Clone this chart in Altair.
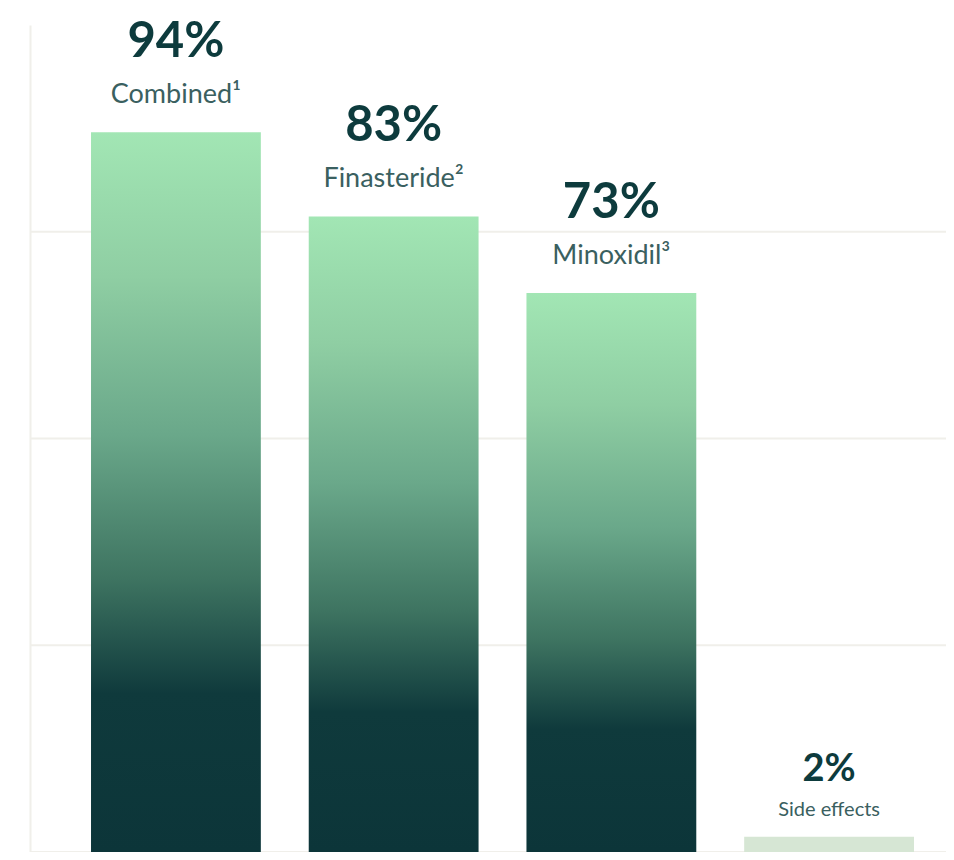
import altair as alt
import pandas as pd

categories = ["Combined", "Finasteride", "Minoxidil", "Side effects"]
labels = ["Combined\u00b9", "Finasteride\u00b2", "Minoxidil\u00b3", "Side effects"]
values = [94, 83, 73, 2]
kinds = ["treatment", "treatment", "treatment", "side"]
grid_levels = [0, 1, 2, 3]

df = pd.DataFrame({"cat": categories, "label": labels, "value": values, "kind": kinds})
df["pct"] = df["value"].astype(str) + "%"
grid_df = pd.DataFrame({"level": grid_levels})

W, H = 916, 827
FONT = "Lato"
DARK = "#0d3b3d"
LABEL = "#3a6060"
GRID = "#f0efea"

xscale = alt.Scale(domain=categories, paddingInner=0.22, paddingOuter=0.2136, align=0.656)
yscale = alt.Scale(domain=[0, 108], nice=False, zero=True)

gradient = {
    "gradient": "linear", "x1": 0, "y1": 0, "x2": 0, "y2": 1,
    "stops": [
        {"offset": 0.0, "color": "#a2e6b4"},
        {"offset": 0.2, "color": "#8fcea3"},
        {"offset": 0.42, "color": "#6aa88a"},
        {"offset": 0.62, "color": "#3e7461"},
        {"offset": 0.78, "color": "#0f3a3c"},
        {"offset": 1.0, "color": "#0c3539"},
    ],
}

grid = alt.Chart(grid_df).mark_rule(color=GRID, strokeWidth=2).encode(
    y=alt.Y("level:Q", scale=alt.Scale(domain=[0, 4], nice=False),
            axis=alt.Axis(domain=True, domainColor=GRID, domainWidth=2,
                          labels=False, ticks=False, grid=False, title=None))
)

base = alt.Chart(df).encode(
    x=alt.X("cat:N", scale=xscale, sort=categories, axis=None),
    y=alt.Y("value:Q", scale=yscale, axis=None),
)

main = base.transform_filter(alt.datum.kind == "treatment")
side = base.transform_filter(alt.datum.kind == "side")

bars = main.mark_bar(color=gradient, cornerRadius=0)
side_bar = side.mark_bar(color="#d6e6d4")

pct_text = main.mark_text(font=FONT, fontWeight="bold", fontSize=49, color=DARK,
                          baseline="alphabetic", dy=-75).encode(text="pct:N")
name_text = main.mark_text(font=FONT, fontSize=27, color=LABEL,
                           baseline="alphabetic", dy=-29).encode(text="label:N")
side_pct = side.mark_text(font=FONT, fontWeight="bold", fontSize=38, color=DARK,
                          baseline="alphabetic", dy=-56).encode(text="pct:N")
side_name = side.mark_text(font=FONT, fontSize=20, color=LABEL,
                           baseline="alphabetic", dy=-21).encode(text="label:N")

content = alt.layer(bars, side_bar, pct_text, name_text, side_pct, side_name)

chart = alt.layer(grid, content).resolve_scale(y="independent").properties(
    width=W, height=H,
    background="white",
    padding={"left": 22, "top": 17, "right": 0, "bottom": 0},
    autosize=alt.AutoSizeParams(type="none"),
).configure_view(stroke=None)

chart.save("out.html", embed_options={"renderer": "svg", "actions": False})
